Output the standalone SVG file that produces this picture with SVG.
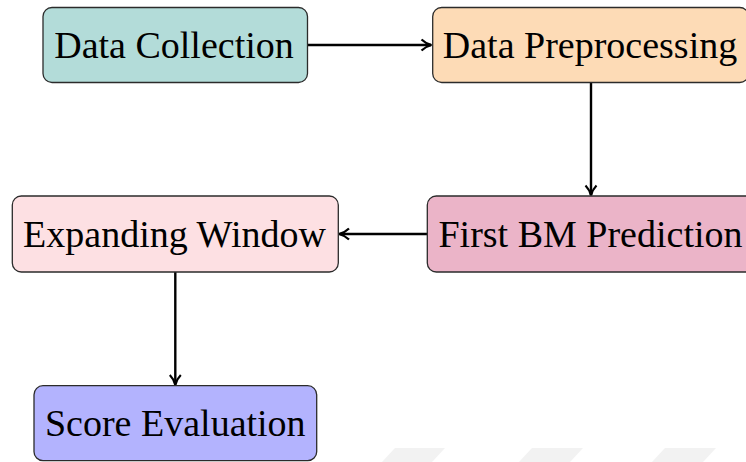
<svg xmlns="http://www.w3.org/2000/svg" width="746" height="462" viewBox="0 0 746 462">
<style>
.box{stroke:#2b2b2b;stroke-width:1.3}
.lbl{font-family:"Liberation Serif","Times New Roman",serif;font-size:38px;fill:#000;text-anchor:middle}
.edge{stroke:#000;stroke-width:2.4;fill:none}
.wm{fill:#f2f2f2}
</style>
<defs>
<marker id="arr" viewBox="0 0 14 14" refX="12.5" refY="7" markerWidth="14" markerHeight="14" markerUnits="userSpaceOnUse" orient="auto">
<path d="M3,1.5 Q7,5.5 13,7 Q7,8.5 3,12.5" fill="none" stroke="#000" stroke-width="2.2"/>
</marker>
</defs>
<rect width="746" height="462" fill="#fff"/>
<g id="watermark">
<polygon class="wm" points="395,448 445,448 432,462 382,462"/>
<polygon class="wm" points="532,448 583,448 570,462 519,462"/>
<polygon class="wm" points="665,448 716,448 703,462 652,462"/>
</g>
<g id="connectors">
<line class="edge" x1="307.7" y1="45" x2="431" y2="45" marker-end="url(#arr)"/>
<line class="edge" x1="591" y1="82.5" x2="591" y2="195" marker-end="url(#arr)"/>
<line class="edge" x1="427.3" y1="234" x2="339.5" y2="234" marker-end="url(#arr)"/>
<line class="edge" x1="175.3" y1="272" x2="175.3" y2="384.5" marker-end="url(#arr)"/>
</g>
<g id="data-collection">
<rect class="box" x="43" y="7.5" width="264.5" height="75" rx="9" fill="#b3dcd9"/>
<text class="lbl" x="174" y="57.5">Data Collection</text>
</g>
<g id="data-preprocessing">
<rect class="box" x="432.7" y="7.5" width="316" height="75" rx="9" fill="#fddbb6"/>
<text class="lbl" x="590" y="57.5">Data Preprocessing</text>
</g>
<g id="first-bm-prediction">
<rect class="box" x="427.3" y="196" width="328" height="76" rx="9" fill="#ebb4c8"/>
<text class="lbl" x="590.5" y="246.5">First BM Prediction</text>
</g>
<g id="expanding-window">
<rect class="box" x="12.3" y="196" width="326" height="76" rx="9" fill="#fde0e3"/>
<text class="lbl" x="174.5" y="246.5">Expanding Window</text>
</g>
<g id="score-evaluation">
<rect class="box" x="34" y="385.7" width="282.7" height="75" rx="9" fill="#b3b3fe"/>
<text class="lbl" x="175.3" y="435.7">Score Evaluation</text>
</g>
</svg>
